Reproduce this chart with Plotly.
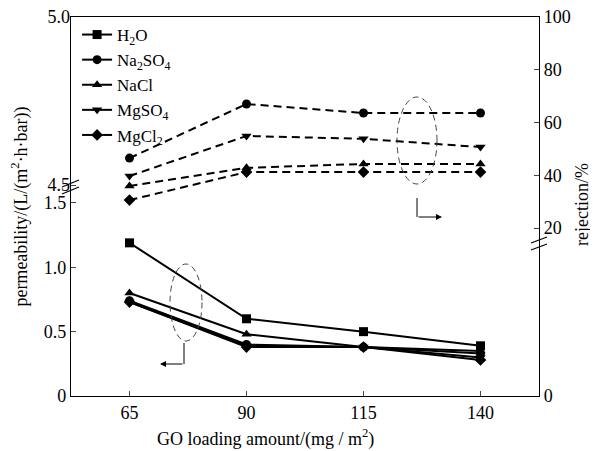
import plotly.graph_objects as go

loading = [65, 90, 115, 140]
series = ["H<sub>2</sub>O", "Na<sub>2</sub>SO<sub>4</sub>", "NaCl", "MgSO<sub>4</sub>", "MgCl<sub>2</sub>"]
symbols = ["square", "circle", "triangle-up", "triangle-down", "diamond"]

perm_H2O = [1.19, 0.60, 0.50, 0.39]
perm_Na2SO4 = [0.74, 0.40, 0.38, 0.33]
perm_NaCl = [0.80, 0.48, 0.38, 0.35]
perm_MgSO4 = [0.73, 0.39, 0.38, 0.30]
perm_MgCl2 = [0.73, 0.38, 0.38, 0.28]

rej_Na2SO4 = [46.5, 67.0, 63.6, 63.6]
rej_NaCl = [35.9, 42.8, 44.3, 44.3]
rej_MgSO4 = [39.7, 54.9, 53.8, 50.7]
rej_MgCl2 = [30.6, 41.2, 41.2, 41.2]

perm = [perm_H2O, perm_Na2SO4, perm_NaCl, perm_MgSO4, perm_MgCl2]
rej = [None, rej_Na2SO4, rej_NaCl, rej_MgSO4, rej_MgCl2]

FONT = "'Liberation Serif', 'Times New Roman', Times, serif"
# target plot area in screen pixels
L, R, T, B = 71, 539, 17, 396
W, H = 598, 451
OFF = 8  # default page body margin

def px(x):
    return (x - L) / (R - L)

def py(y):
    return (B - y) / (B - T)

fig = go.Figure()
for name, sym, p in zip(series, symbols, perm):
    fig.add_trace(go.Scatter(x=loading, y=p, name=name, mode="lines+markers",
                             line=dict(color="black", width=2),
                             marker=dict(symbol=sym, size=9, color="black"),
                             yaxis="y"))
for name, sym, r in zip(series, symbols, rej):
    if r is None:
        continue
    fig.add_trace(go.Scatter(x=loading, y=r, name=name, mode="lines+markers",
                             showlegend=False,
                             line=dict(color="black", width=2, dash="8px,5px"),
                             marker=dict(symbol=sym, size=9, color="black"),
                             yaxis="y3"))
fig.add_trace(go.Scatter(x=[None], y=[None], yaxis="y2", showlegend=False))

tickfont = dict(family=FONT, size=18, color="black")

shapes = []
for (x0, y0, x1, y1) in [(62, 187, 79, 180), (62, 194, 79, 187),
                         (531, 243, 547, 237), (531, 250, 547, 244)]:
    shapes.append(dict(type="line", xref="paper", yref="paper",
                       x0=px(x0), y0=py(y0), x1=px(x1), y1=py(y1),
                       line=dict(color="black", width=1.2)))
shapes.append(dict(type="circle", xref="paper", yref="paper",
                   x0=px(170), x1=px(202), y0=py(341), y1=py(264),
                   line=dict(color="#444", width=1, dash="6px,4px")))
shapes.append(dict(type="circle", xref="paper", yref="paper",
                   x0=px(397), x1=px(437), y0=py(184), y1=py(97),
                   line=dict(color="#444", width=1, dash="6px,4px")))
shapes.append(dict(type="line", xref="paper", yref="paper",
                   x0=px(184), x1=px(184), y0=py(343), y1=py(364),
                   line=dict(color="black", width=1)))
shapes.append(dict(type="line", xref="paper", yref="paper",
                   x0=px(417), x1=px(417), y0=py(198), y1=py(217),
                   line=dict(color="black", width=1)))

annotations = [
    dict(xref="paper", yref="paper", x=px(160), y=py(364), ax=24, ay=0,
         showarrow=True, arrowhead=2, arrowsize=1.2,
         arrowwidth=1, arrowcolor="black", text=""),
    dict(xref="paper", yref="paper", x=px(442), y=py(217), ax=-25, ay=0,
         showarrow=True, arrowhead=2, arrowsize=1.2,
         arrowwidth=1, arrowcolor="black", text=""),
    dict(xref="paper", yref="paper", x=px(265), y=py(438), xanchor="center", yanchor="middle",
         showarrow=False, text="GO loading amount/(mg / m<sup>2</sup>)",
         font=dict(family=FONT, size=18, color="black")),
    dict(xref="paper", yref="paper", x=px(582), y=py(205), xanchor="center", yanchor="middle",
         showarrow=False, text="rejection/%", textangle=-90,
         font=dict(family=FONT, size=18, color="black")),
]

fig.update_layout(
    width=W - OFF, height=H - OFF,
    margin=dict(l=L - OFF, r=W - R, t=T - OFF, b=H - B, autoexpand=False),
    plot_bgcolor="white", paper_bgcolor="white",
    font=dict(family=FONT, size=18, color="black"),
    showlegend=True,
    legend=dict(x=0.013, y=1.0, xanchor="left", yanchor="top",
                bgcolor="rgba(0,0,0,0)", font=dict(family=FONT, size=17),
                tracegroupgap=0, itemwidth=30),
    xaxis=dict(range=[52.5, 152.5], tickvals=loading, ticks="inside", ticklen=5,
               showline=True, mirror=True, linecolor="black", linewidth=1.2,
               showgrid=False, zeroline=False, tickfont=tickfont,
               ticklabeloverflow="allow"),
    yaxis=dict(range=[0, (B - T) / 128.7], tickvals=[0, 0.5, 1.0, 1.5],
               ticktext=["0", "0.5", "1.0", "1.5"], ticks="inside", ticklen=5,
               showline=True, linecolor="black", linewidth=1.2,
               showgrid=False, zeroline=False, tickfont=tickfont,
               ticklabeloverflow="allow",
               title=dict(text="permeability/(L/(m<sup>2</sup>·h·bar))",
                          font=dict(family=FONT, size=18), standoff=18)),
    yaxis2=dict(range=[4.5 - (B - 185) / 336.0, 5.0], overlaying="y", side="left",
                tickvals=[4.5, 5.0], ticktext=["4.5", "5.0"], ticks="inside", ticklen=5,
                showline=False, showgrid=False, zeroline=False, tickfont=tickfont,
                ticklabeloverflow="allow"),
    yaxis3=dict(range=[20 - (B - 228) * 80 / 211.0, 100], overlaying="y", side="right",
                tickvals=[20 - (B - 228) * 80 / 211.0, 20, 40, 60, 80, 100],
                ticktext=["0", "20", "40", "60", "80", "100"],
                ticks="inside", ticklen=5,
                showline=True, linecolor="black", linewidth=1.2,
                showgrid=False, zeroline=False, tickfont=tickfont,
                ticklabeloverflow="allow"),
    shapes=shapes,
    annotations=annotations,
)

fig.write_html("out.html")
